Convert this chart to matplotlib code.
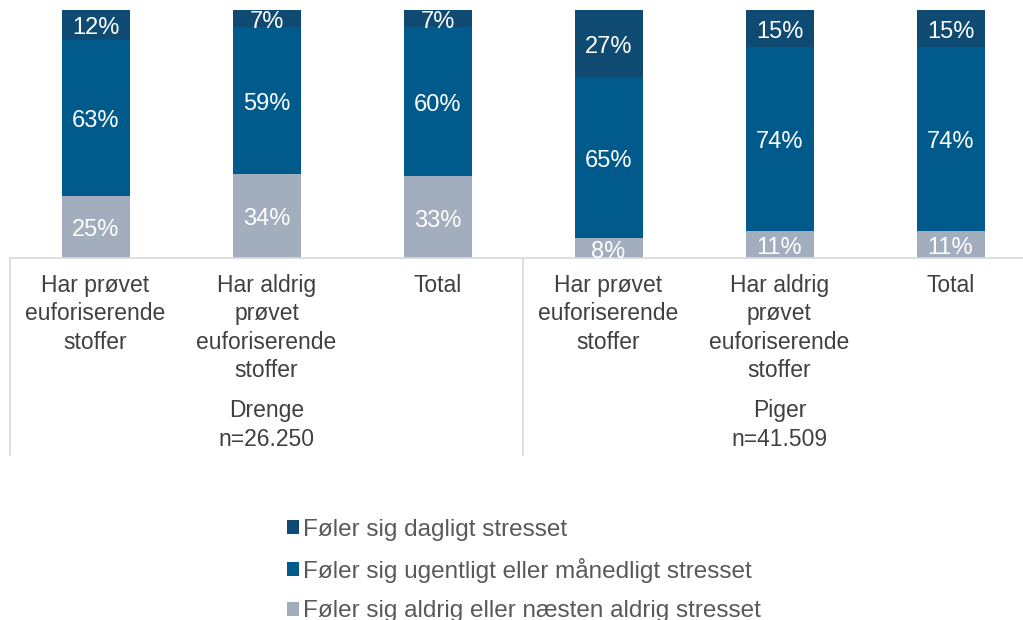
import matplotlib.pyplot as plt
import numpy as np

plt.rcParams['font.family'] = ['Liberation Sans', 'DejaVu Sans']

categories = ['Har prøvet\neuforiserende\nstoffer', 'Har aldrig\nprøvet\neuforiserende\nstoffer', 'Total',
              'Har prøvet\neuforiserende\nstoffer', 'Har aldrig\nprøvet\neuforiserende\nstoffer', 'Total']
groups = ['Drenge\nn=26.250', 'Piger\nn=41.509']
aldrig = [25, 34, 33, 8, 11, 11]
ugentligt = [63, 59, 60, 65, 74, 74]
dagligt = [12, 7, 7, 27, 15, 15]
series_names = ['Føler sig dagligt stresset',
                'Føler sig ugentligt eller månedligt stresset',
                'Føler sig aldrig eller næsten aldrig stresset']

c_dag = '#0e4a72'
c_ug = '#005b8c'
c_ald = '#a2adbe'
txt = '#404040'

W, H = 1023, 620
fig = plt.figure(figsize=(W / 100, H / 100), dpi=100)
# axes spans x 10..1036 px, y 10..258 px
ax = fig.add_axes([10 / W, 1 - 258 / H, 1026 / W, 248 / H])

x = np.arange(len(categories))
bw = 68 / 171
b1 = ax.bar(x, aldrig, bw, color=c_ald, label=series_names[2])
b2 = ax.bar(x, ugentligt, bw, bottom=aldrig, color=c_ug, label=series_names[1])
bot3 = np.array(aldrig) + np.array(ugentligt)
b3 = ax.bar(x, dagligt, bw, bottom=bot3, color=c_dag, label=series_names[0])

for vals, bots in [(aldrig, np.zeros(6)), (ugentligt, aldrig), (dagligt, bot3)]:
    for xi, v, b in zip(x, vals, bots):
        ax.annotate(f'{v}%', (xi, b + v / 2), xytext=(0, -2.5), textcoords='offset points',
                    ha='center', va='center', color='white', fontsize=17)

ax.set_xlim(-0.5, 5.5)
ax.set_ylim(0, 100)
for s in ['top', 'right', 'left']:
    ax.spines[s].set_visible(False)
ax.spines['bottom'].set_color('#d9d9d9')
ax.spines['bottom'].set_linewidth(1.2)
ax.set_yticks([])
ax.set_xticks([])

tr = ax.get_xaxis_transform()
depth = (455 - 258) / 248
for xv in [-0.5, 2.5]:
    ax.plot([xv, xv], [0, -depth], color='#d9d9d9', lw=1.2, transform=tr, clip_on=False)

for xi, lab in zip(x, categories):
    ax.text(xi, -(274 - 258) / 248, lab, ha='center', va='top', color=txt, fontsize=16.5,
            linespacing=1.3, transform=tr)

for gi, g in enumerate(groups):
    ax.text(1 + 3 * gi, -(399 - 258) / 248, g, ha='center', va='top', color=txt, fontsize=16.5,
            linespacing=1.33, transform=tr)

handles = [b3, b2, b1]
leg = fig.legend(handles, series_names, loc='upper left', bbox_to_anchor=(277 / W, 1 - 509 / H),
                 frameon=False, fontsize=17.5, handlelength=0.5, handleheight=0.5,
                 handletextpad=0.15, labelspacing=0.71, borderaxespad=0)
for t in leg.get_texts():
    t.set_color('#595959')

fig.savefig('out.png', dpi=100)
